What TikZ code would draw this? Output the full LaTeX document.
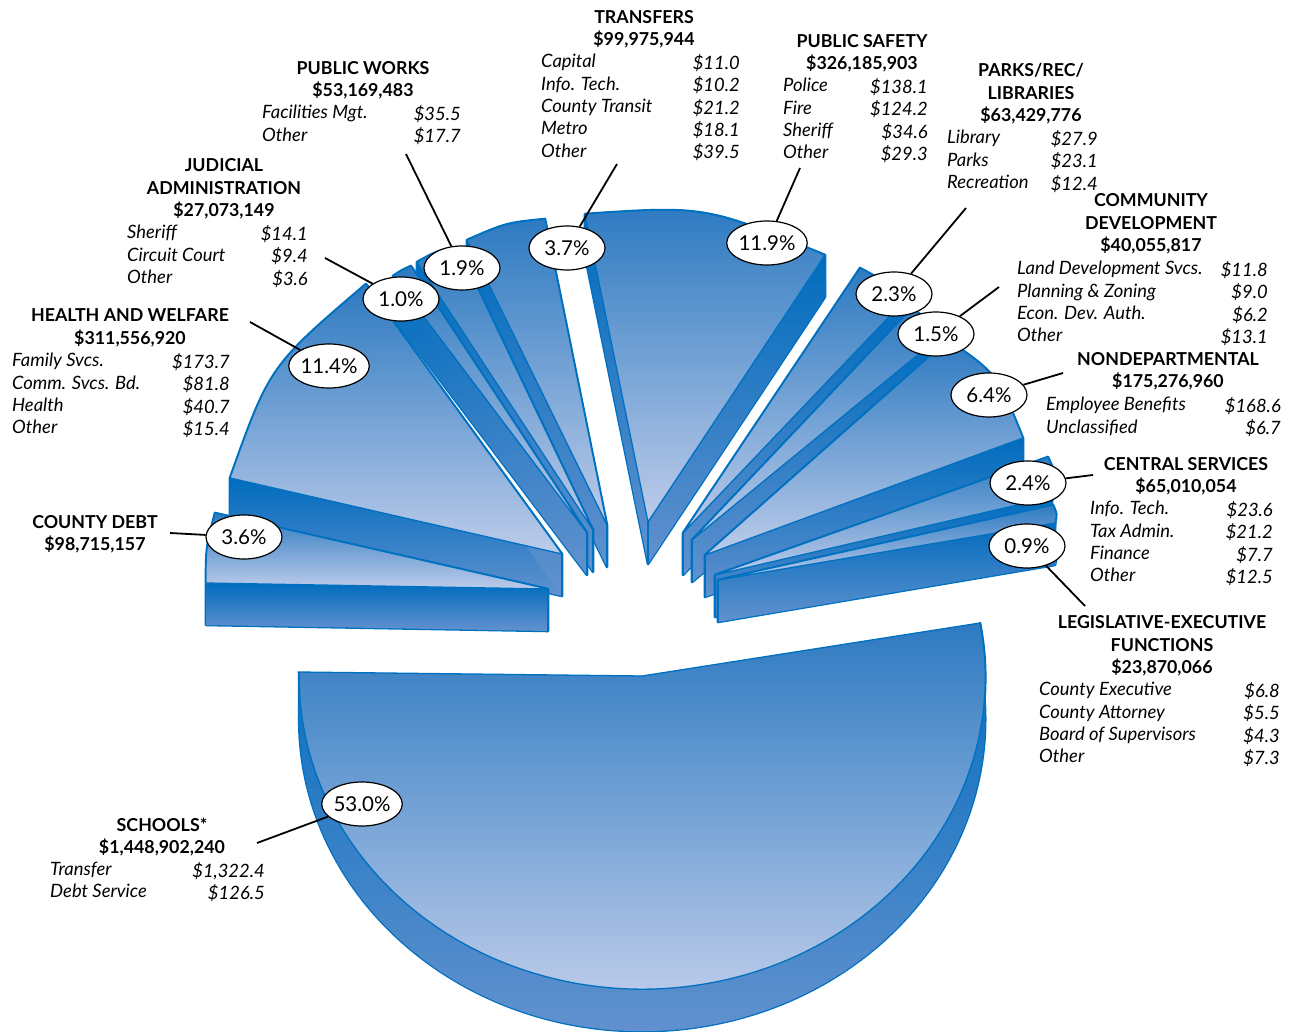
\documentclass[tikz,border=0pt]{standalone}
\usepackage{fontspec}
\setmainfont{Lato}
\usetikzlibrary{calc,shapes.geometric}

\definecolor{pieline}{RGB}{0,112,192}
\definecolor{topdark}{RGB}{45,122,193}
\definecolor{toplight}{RGB}{190,204,234}
\definecolor{walldark}{RGB}{0,108,190}
\definecolor{walllight}{RGB}{98,145,206}

\tikzset{
  slabrim/.style={draw=pieline, line width=2.6pt, line join=round},
  slabwall/.style={top color=walldark, bottom color=walllight},
  slabtop/.style={top color=topdark, bottom color=toplight, draw=pieline, line width=1.3pt, line join=round},
  slabedge/.style={draw=pieline, line width=1.3pt},
  pct/.style={ellipse, draw=black, line width=1.2pt, fill=white, minimum width=76pt, minimum height=44pt, inner sep=0pt, font=\fontsize{20.5}{21}\selectfont},
  leader/.style={draw=black, line width=1.8pt},
  head/.style={align=center, inner sep=0pt, font=\fontsize{17.8}{22.4}\selectfont\bfseries},
  names/.style={align=left, inner sep=0pt, anchor=north west, font=\fontsize{18.4}{22.4}\selectfont\itshape},
  vals/.style={align=right, inner sep=0pt, anchor=north east, font=\fontsize{18.4}{22.4}\selectfont\itshape}
}

% one exploded slice: apex, first corner, arc control, second corner
\newcommand{\pieslab}[4]{%
  \draw[slabrim] #1 -- #2 -- ($#2+(0,42)$) -- ($#1+(0,42)$) -- cycle
    #1 -- #4 -- ($#4+(0,42)$) -- ($#1+(0,42)$) -- cycle
    #2 .. controls #3 .. #4 -- ($#4+(0,42)$) .. controls ($#3+(0,42)$) .. ($#2+(0,42)$) -- cycle;
  \shade[slabwall] #2 .. controls #3 .. #4 -- ($#4+(0,42)$) .. controls ($#3+(0,42)$) .. ($#2+(0,42)$) -- cycle;
  \shade[slabwall] #1 -- #2 -- ($#2+(0,42)$) -- ($#1+(0,42)$) -- cycle;
  \shade[slabwall] #1 -- #4 -- ($#4+(0,42)$) -- ($#1+(0,42)$) -- cycle;
  \shadedraw[slabtop] #1 -- #2 .. controls #3 .. #4 -- cycle;
  \draw[slabedge] #1 -- ($#1+(0,42)$);
}

\begin{document}
\begin{tikzpicture}[x=1pt, y=-1pt]
    \useasboundingbox (0,0) rectangle (1294,1032);

    % left fan, back to front
    \pieslab{(607,525)}{(467,240)}{(506,223)}{(545,219)}
    \pieslab{(593,530)}{(417,262)}{(437,251)}{(458,247)}
    \pieslab{(587,533)}{(393,276)}{(402,270)}{(411,266)}
    \pieslab{(562,554)}{(230,478)}{(270,366)}{(366,284)}
    \pieslab{(548,589)}{(215,513)}{(206,548)}{(206,583)}

    % right fan, back to front
    \pieslab{(648,522)}{(585,214)}{(705,206)}{(825,255)}
    \pieslab{(683,533)}{(860,268)}{(884,281)}{(905,300)}
    \pieslab{(692,540)}{(912,308)}{(928,320)}{(942,335)}
    \pieslab{(705,555)}{(948,340)}{(997,374)}{(1023,438)}
    \pieslab{(715,575)}{(1048,457)}{(1057,477)}{(1052,497)}
    \pieslab{(718,580)}{(1053,505)}{(1057,514)}{(1055,523)}

    % schools
    \draw[slabrim] (980,623) arc[start angle=-10, end angle=180.7, x radius=343, y radius=312]
        -- ++(0,42) arc[start angle=180.7, end angle=-10, x radius=343, y radius=312] -- cycle;
    \shade[slabwall] (980,623) arc[start angle=-10, end angle=180.7, x radius=343, y radius=312]
        -- ++(0,42) arc[start angle=180.7, end angle=-10, x radius=343, y radius=312] -- cycle;
    \shadedraw[slabtop] (298,672) -- (642,676) -- (980,623)
        arc[start angle=-10, end angle=180.7, x radius=343, y radius=312] -- cycle;

    % percent bubbles
    \node[pct] (p530) at (362,804) {53.0\%};
    \node[pct] (p36) at (244,537) {3.6\%};
    \node[pct] (p114) at (329,366) {11.4\%};
    \node[pct] (p10) at (401,299) {1.0\%};
    \node[pct] (p19) at (462,268) {1.9\%};
    \node[pct] (p37) at (567,248) {3.7\%};
    \node[pct] (p119) at (767,243) {11.9\%};
    \node[pct] (p23) at (894,294) {2.3\%};
    \node[pct] (p15) at (936,334) {1.5\%};
    \node[pct] (p64) at (989,395) {6.4\%};
    \node[pct] (p24) at (1028,483) {2.4\%};
    \node[pct] (p09) at (1027,546) {0.9\%};

    \coordinate (l530) at (257,843);
    \coordinate (l36) at (170,533);
    \coordinate (l114) at (250,322);
    \coordinate (l10) at (325,258);
    \coordinate (l19) at (406,154);
    \coordinate (l37) at (617,164);
    \coordinate (l119) at (800,168);
    \coordinate (l23) at (966,208);
    \coordinate (l15) at (999,287);
    \coordinate (l64) at (1063,373);
    \coordinate (l24) at (1093,475);
    \coordinate (l09) at (1085,606);

    \draw[leader] (l530) -- (p530);
    \draw[leader] (l36) -- (p36);
    \draw[leader] (l114) -- (p114);
    \draw[leader] (l10) -- (p10);
    \draw[leader] (l19) -- (p19);
    \draw[leader] (l37) -- (p37);
    \draw[leader] (l119) -- (p119);
    \draw[leader] (l23) -- (p23);
    \draw[leader] (l15) -- (p15);
    \draw[leader] (l64) -- (p64);
    \draw[leader] (l24) -- (p24);
    \draw[leader] (l09) -- (p09);

    % labels
    \node[head] (transfershead) at (644,29) {TRANSFERS\\\$99,975,944};
    \node[names] (transfersnames) at (541,54) {Capital\\Info. Tech.\\County Transit\\Metro\\Other};
    \node[vals] (transfersvals) at (740,54) {\$11.0\\\$10.2\\\$21.2\\\$18.1\\\$39.5};

    \node[head] (safetyhead) at (862,53) {PUBLIC SAFETY\\\$326,185,903};
    \node[names] (safetynames) at (783,78) {Police\\Fire\\Sheriff\\Other};
    \node[vals] (safetyvals) at (928,78) {\$138.1\\\$124.2\\\$34.6\\\$29.3};

    \node[head] (parkshead) at (1031,94) {PARKS/REC/\\LIBRARIES\\\$63,429,776};
    \node[names] (parksnames) at (947,130) {Library\\Parks\\Recreation};
    \node[vals] (parksvals) at (1098,130) {\$27.9\\\$23.1\\\$12.4};

    \node[head] (communityhead) at (1151,224) {COMMUNITY\\DEVELOPMENT\\\$40,055,817};
    \node[names] (communitynames) at (1017,261) {Land Development Svcs.\\Planning \& Zoning\\Econ. Dev. Auth.\\Other};
    \node[vals] (communityvals) at (1268,261) {\$11.8\\\$9.0\\\$6.2\\\$13.1};

    \node[head] (nondepthead) at (1168,371) {NONDEPARTMENTAL\\\$175,276,960};
    \node[names] (nondeptnames) at (1046,397) {Employee Benefits\\Unclassified};
    \node[vals] (nondeptvals) at (1281,397) {\$168.6\\\$6.7};

    \node[head] (centralhead) at (1186,476) {CENTRAL SERVICES\\\$65,010,054};
    \node[names] (centralnames) at (1090,501) {Info. Tech.\\Tax Admin.\\Finance\\Other};
    \node[vals] (centralvals) at (1273,501) {\$23.6\\\$21.2\\\$7.7\\\$12.5};

    \node[head] (legishead) at (1162,646) {LEGISLATIVE-EXECUTIVE\\FUNCTIONS\\\$23,870,066};
    \node[names] (legisnames) at (1039,682) {County Executive\\County Attorney\\Board of Supervisors\\Other};
    \node[vals] (legisvals) at (1280,682) {\$6.8\\\$5.5\\\$4.3\\\$7.3};

    \node[head] (schoolshead) at (162,837) {SCHOOLS*\\\$1,448,902,240};
    \node[names] (schoolsnames) at (50,862) {Transfer\\Debt Service};
    \node[vals] (schoolsvals) at (265,862) {\$1,322.4\\\$126.5};

    \node[head] (debthead) at (95,534) {COUNTY DEBT\\\$98,715,157};

    \node[head] (healthhead) at (130,328) {HEALTH AND WELFARE\\\$311,556,920};
    \node[names] (healthnames) at (12,353) {Family Svcs.\\Comm. Svcs. Bd.\\Health\\Other};
    \node[vals] (healthvals) at (230,353) {\$173.7\\\$81.8\\\$40.7\\\$15.4};

    \node[head] (judicialhead) at (224,189) {JUDICIAL\\ADMINISTRATION\\\$27,073,149};
    \node[names] (judicialnames) at (127,225) {Sheriff\\Circuit Court\\Other};
    \node[vals] (judicialvals) at (308,225) {\$14.1\\\$9.4\\\$3.6};

    \node[head] (workshead) at (363,80) {PUBLIC WORKS\\\$53,169,483};
    \node[names] (worksnames) at (262,105) {Facilities Mgt.\\Other};
    \node[vals] (worksvals) at (461,105) {\$35.5\\\$17.7};

\end{tikzpicture}
\end{document}
